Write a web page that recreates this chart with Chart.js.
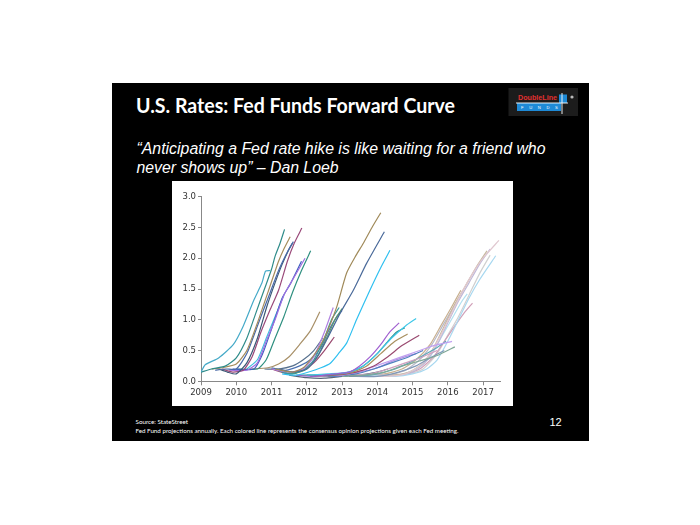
<!DOCTYPE html>
<html>
<head>
<meta charset="utf-8">
<script src="https://cdn.jsdelivr.net/npm/chart.js@4"></script>
<style>
  body { margin: 0; background: #fff; width: 700px; height: 525px; overflow: hidden; }
  #slide { position: absolute; left: 112px; top: 83px; width: 477px; height: 358px; background: #000; }
  #deco { position: absolute; left: 0; top: 0; }
  #chartBox { position: absolute; left: 172px; top: 181px; width: 341px; height: 225px; background: #fff; }
</style>
</head>
<body>
<div id="slide"></div>
<svg id="deco" width="700" height="525">
  <text x="136" y="113" fill="#fff" font-family="Lato" font-weight="bold" font-size="21" textLength="319" lengthAdjust="spacingAndGlyphs">U.S. Rates: Fed Funds Forward Curve</text>
  <text x="136.5" y="154" fill="#fff" font-family="Liberation Sans" font-style="italic" font-size="16.3" textLength="409" lengthAdjust="spacingAndGlyphs">“Anticipating a Fed rate hike is like waiting for a friend who</text>
  <text x="136.5" y="173" fill="#fff" font-family="Liberation Sans" font-style="italic" font-size="16.3" textLength="202" lengthAdjust="spacingAndGlyphs">never shows up” – Dan Loeb</text>
  <text x="135.5" y="424" fill="#fff" font-family="Lato" font-size="6.5" textLength="52.5" lengthAdjust="spacingAndGlyphs">Source: StateStreet</text>
  <text x="135.5" y="432.5" fill="#fff" font-family="Lato" font-size="6.5" textLength="323" lengthAdjust="spacingAndGlyphs">Fed Fund projections annually. Each colored line represents the consensus opinion projections given each Fed meeting.</text>
  <text x="549.5" y="426" fill="#ffffff" font-family="Liberation Sans" font-size="11">12</text>
  <!-- logo -->
  <rect x="508.5" y="88" width="69.5" height="28" fill="#1c1c1c"/>
  <text x="518" y="99.5" fill="#e03030" font-family="Liberation Sans" font-weight="bold" font-size="7" textLength="39" lengthAdjust="spacingAndGlyphs">DoubleLine</text>
  <rect x="517" y="103" width="44" height="8" fill="#1e8ad6"/>
  <rect x="559" y="94.5" width="8" height="8.5" fill="#1e8ad6"/>
  <text x="521" y="109.3" fill="#fff" font-family="Liberation Sans" font-size="4.2" letter-spacing="5.6">FUNDS</text>
  <line x1="516" y1="103" x2="568" y2="103" stroke="#fff" stroke-width="0.9"/>
  <line x1="562" y1="93" x2="562" y2="114" stroke="#fff" stroke-width="0.9"/>
  <circle cx="572" cy="97" r="1.6" fill="#bbb"/>
</svg>
<div id="chartBox"><canvas id="fedChart" width="341" height="225"></canvas></div>
<script>
// axis ticks
const yearTicks = [2009, 2010, 2011, 2012, 2013, 2014, 2015, 2016, 2017];
const rateTicks = [0, 0.5, 1.0, 1.5, 2.0, 2.5, 3.0];

// forward curves: [year, rate], one array per Fed meeting
// 2009 - 2010 meetings
const meet01 = [[2009.0,0.15],[2009.12,0.27],[2009.5,0.38],[2009.92,0.6],[2010.2,0.9],[2010.5,1.32],[2010.73,1.6],[2010.83,1.79],[2010.96,1.8]];
const meet02 = [[2009.0,0.15],[2009.3,0.2],[2009.7,0.25],[2010.0,0.38],[2010.3,0.7],[2010.55,1.1],[2010.8,1.5],[2011.0,1.82],[2011.1,2.03],[2011.24,2.24],[2011.37,2.47]];
const meet03 = [[2009.3,0.2],[2009.6,0.22],[2010.0,0.28],[2010.3,0.5],[2010.6,0.95],[2010.9,1.45],[2011.2,1.95],[2011.35,2.15],[2011.53,2.35]];
const meet04 = [[2009.4,0.18],[2009.7,0.2],[2010.0,0.2],[2010.3,0.45],[2010.6,0.9],[2010.9,1.35],[2011.2,1.8],[2011.45,2.1],[2011.62,2.27]];
const meet05 = [[2009.5,0.2],[2009.75,0.15],[2010.0,0.12],[2010.3,0.3],[2010.6,0.7],[2010.87,1.22],[2011.1,1.6],[2011.3,1.9],[2011.5,2.15],[2011.6,2.25]];
const meet06 = [[2009.6,0.2],[2009.9,0.15],[2010.2,0.18],[2010.45,0.4],[2010.7,0.8],[2010.95,1.15],[2011.2,1.48],[2011.45,1.95],[2011.65,2.25],[2011.86,2.49]];
const meet07 = [[2009.8,0.18],[2010.3,0.18],[2010.6,0.3],[2010.85,0.65],[2011.1,1.0],[2011.35,1.4],[2011.6,1.65],[2011.95,2.0]];
const meet08 = [[2009.9,0.2],[2010.5,0.2],[2010.75,0.45],[2011.0,0.85],[2011.3,1.35],[2011.55,1.6],[2011.85,1.95]];
const meet09 = [[2010.0,0.2],[2010.6,0.2],[2010.85,0.35],[2011.1,0.7],[2011.35,1.05],[2011.6,1.45],[2011.85,1.8],[2012.11,2.12]];
const meet10 = [[2010.3,0.2],[2010.6,0.35],[2010.85,0.7],[2011.1,1.05],[2011.35,1.4]];
const meet11 = [[2010.4,0.2],[2010.9,0.22],[2011.2,0.28],[2011.5,0.4],[2011.8,0.6],[2012.1,0.82],[2012.37,1.13]];
// 2011 meetings
const meet12 = [[2011.1,0.2],[2011.6,0.15],[2011.9,0.22],[2012.1,0.35],[2012.35,0.55],[2012.56,0.78],[2012.85,1.21],[2013.13,1.76],[2013.4,2.05],[2013.6,2.24],[2013.85,2.5],[2014.1,2.74]];
const meet13 = [[2011.2,0.2],[2011.6,0.15],[2012.0,0.2],[2012.3,0.4],[2012.56,0.67],[2012.94,1.1],[2013.32,1.48],[2013.7,1.92],[2014.2,2.43]];
const meet14 = [[2011.3,0.12],[2011.7,0.1],[2012.1,0.16],[2012.4,0.22],[2012.66,0.29],[2012.9,0.45],[2013.13,0.62],[2013.41,1.0],[2013.79,1.48],[2014.1,1.85],[2014.36,2.13]];
const meet15 = [[2011.0,0.2],[2011.5,0.15],[2011.9,0.2],[2012.2,0.4],[2012.5,0.8],[2012.75,1.2]];
const meet16 = [[2011.1,0.2],[2011.5,0.12],[2011.9,0.18],[2012.2,0.35],[2012.5,0.7],[2012.7,1.0],[2012.92,1.2]];
const meet17 = [[2011.2,0.18],[2011.6,0.12],[2012.0,0.2],[2012.3,0.4],[2012.6,0.75],[2012.8,1.0],[2013.0,1.18]];
const meet18 = [[2011.0,0.22],[2011.4,0.18],[2011.8,0.25],[2012.1,0.35],[2012.4,0.55],[2012.6,0.8],[2012.85,1.05],[2013.0,1.15]];
const meet19 = [[2011.0,0.2],[2011.5,0.12],[2011.9,0.18],[2012.2,0.3],[2012.5,0.5],[2012.78,0.72]];
const meet20 = [[2010.8,0.2],[2011.2,0.2],[2011.6,0.25],[2011.9,0.35],[2012.2,0.5],[2012.45,0.7]];
// 2012 - 2013 meetings
const meet21 = [[2011.7,0.1],[2012.2,0.08],[2012.8,0.12],[2013.2,0.15],[2013.5,0.25],[2013.8,0.4],[2014.1,0.6],[2014.35,0.8],[2014.62,0.95]];
const meet22 = [[2012.0,0.1],[2012.6,0.12],[2013.2,0.15],[2013.6,0.25],[2014.0,0.45],[2014.4,0.7],[2014.8,0.9],[2015.1,1.02]];
const meet23 = [[2011.8,0.1],[2012.5,0.1],[2013.2,0.15],[2013.6,0.25],[2014.0,0.45],[2014.3,0.65],[2014.55,0.8],[2014.78,0.87]];
const meet24 = [[2012.0,0.1],[2012.6,0.1],[2013.3,0.15],[2013.7,0.25],[2014.1,0.45],[2014.5,0.65],[2014.86,0.77]];
const meet25 = [[2012.1,0.08],[2012.8,0.1],[2013.4,0.15],[2013.9,0.25],[2014.3,0.4],[2014.7,0.58],[2015.19,0.75]];
const meet26 = [[2012.5,0.1],[2013.0,0.1],[2013.6,0.18],[2014.1,0.28],[2014.6,0.38],[2015.1,0.48],[2015.6,0.58],[2016.12,0.65]];
const meet27 = [[2013.0,0.08],[2013.6,0.1],[2014.2,0.15],[2014.7,0.25],[2015.2,0.33],[2015.7,0.42],[2016.2,0.56]];
const meet28 = [[2012.2,0.1],[2012.8,0.08],[2013.4,0.12],[2013.9,0.2],[2014.4,0.3],[2014.9,0.4],[2015.3,0.5]];
const meet29 = [[2012.6,0.08],[2013.2,0.1],[2013.8,0.12],[2014.3,0.2],[2014.8,0.3],[2015.3,0.4],[2015.7,0.5]];
const meet30 = [[2012.3,0.1],[2013.0,0.1],[2013.5,0.15],[2014.0,0.22],[2014.4,0.32],[2014.8,0.4],[2015.1,0.45]];
const meet31 = [[2011.5,0.1],[2012.0,0.06],[2012.5,0.05],[2013.0,0.08],[2013.5,0.1],[2014.0,0.15],[2014.3,0.2]];
const meet32 = [[2013.0,0.1],[2013.8,0.1],[2014.4,0.18],[2014.9,0.3],[2015.3,0.42],[2015.7,0.55],[2015.95,0.65]];
const meet33 = [[2013.2,0.08],[2014.0,0.08],[2014.6,0.15],[2015.1,0.25],[2015.5,0.38],[2015.9,0.5]];
// 2013 - 2014 meetings
const meet34 = [[2013.5,0.1],[2014.2,0.08],[2014.8,0.12],[2015.2,0.25],[2015.5,0.45],[2015.8,0.75],[2016.1,1.1],[2016.4,1.45],[2016.7,1.75],[2017.0,2.0],[2017.45,2.29]];
const meet35 = [[2013.8,0.1],[2014.5,0.08],[2015.0,0.12],[2015.4,0.2],[2015.7,0.35],[2016.0,0.65],[2016.3,1.0],[2016.6,1.35],[2016.9,1.65],[2017.36,2.04]];
const meet36 = [[2013.6,0.1],[2014.4,0.1],[2014.9,0.15],[2015.3,0.3],[2015.6,0.55],[2015.9,0.9],[2016.2,1.25],[2016.5,1.55],[2016.8,1.85],[2017.11,2.12]];
const meet37 = [[2013.7,0.12],[2014.5,0.1],[2015.0,0.15],[2015.35,0.3],[2015.7,0.6],[2016.0,0.95],[2016.3,1.3],[2016.6,1.6],[2016.9,1.9],[2017.2,2.15]];
const meet38 = [[2013.4,0.1],[2014.2,0.12],[2014.7,0.2],[2015.1,0.35],[2015.5,0.6],[2015.8,0.9],[2016.1,1.2],[2016.37,1.48]];
const meet39 = [[2013.5,0.1],[2014.3,0.1],[2014.8,0.18],[2015.2,0.35],[2015.55,0.6],[2015.85,0.9],[2016.15,1.2],[2016.43,1.48]];
const meet40 = [[2014.0,0.08],[2014.7,0.1],[2015.2,0.2],[2015.6,0.4],[2015.9,0.65],[2016.2,0.9],[2016.45,1.1],[2016.7,1.27]];
const meet41 = [[2013.9,0.1],[2014.6,0.1],[2015.1,0.2],[2015.5,0.4],[2015.8,0.7],[2016.1,1.0],[2016.4,1.3],[2016.55,1.42]];
const meet42 = [[2014.3,0.1],[2014.9,0.12],[2015.3,0.2],[2015.7,0.45],[2016.0,0.75],[2016.3,1.05],[2016.6,1.4],[2016.9,1.75],[2017.2,2.05]];

const curves = [meet01, meet02, meet03, meet04, meet05, meet06, meet07, meet08, meet09, meet10, meet11,
  meet12, meet13, meet14, meet15, meet16, meet17, meet18, meet19, meet20,
  meet21, meet22, meet23, meet24, meet25, meet26, meet27, meet28, meet29, meet30, meet31, meet32, meet33,
  meet34, meet35, meet36, meet37, meet38, meet39, meet40, meet41, meet42];

const lineColors = ['#46aac8', '#2f8c8a', '#a48c5c', '#4a6aa8', '#3d5876', '#9a4a7a', '#a070e0', '#4060c0', '#2f9080', '#40c0e0', '#a89068',
  '#a08a5a', '#4a6a9a', '#30c0f0', '#b080e0', '#3a9a9a', '#5a9a6a', '#4a70b0', '#9a4a70', '#56708e',
  '#a060d0', '#40c8e8', '#2a9090', '#a89060', '#9a4a70', '#c0a0f0', '#80a898', '#5080c0', '#d0a0c0', '#b090e0', '#55667a', '#60a8b8', '#8098b8',
  '#e0c8d0', '#a8d8f0', '#c8b8a0', '#c0b8d8', '#c8b090', '#b8b8c8', '#d0a0b8', '#b0e0f0', '#d0d0d0'];

const datasets = curves.map(function (c, i) {
  return {
    data: c.map(function (p) { return { x: p[0], y: p[1] }; }),
    borderColor: lineColors[i],
    borderWidth: 1.2,
    pointRadius: 0,
    tension: 0.2,
    fill: false
  };
});

const tickFont = { family: 'DejaVu Sans', size: 8.5 };

new Chart(document.getElementById('fedChart').getContext('2d'), {
  type: 'line',
  data: { datasets: datasets },
  options: {
    responsive: false,
    animation: false,
    devicePixelRatio: 1,
    layout: { padding: { top: 15.7, right: 12.3, left: 0, bottom: 0 } },
    plugins: { legend: { display: false }, tooltip: { enabled: false } },
    scales: {
      x: {
        type: 'linear',
        min: 2009,
        max: 2017.5,
        afterBuildTicks: function (s) { s.ticks = yearTicks.map(function (v) { return { value: v }; }); },
        afterFit: function (s) { s.height = 24.7; },
        ticks: { font: tickFont, color: '#333', padding: 2, maxRotation: 0, callback: function (v) { return String(v); } },
        grid: { drawOnChartArea: false, drawTicks: true, tickLength: 4, color: '#888' },
        border: { color: '#888', width: 1 }
      },
      y: {
        min: 0,
        max: 3,
        afterBuildTicks: function (s) { s.ticks = rateTicks.map(function (v) { return { value: v }; }); },
        afterFit: function (s) { s.width = 29; },
        ticks: { font: tickFont, color: '#333', padding: 2, callback: function (v) { return v.toFixed(1); } },
        grid: { drawOnChartArea: false, drawTicks: true, tickLength: 3, color: '#888' },
        border: { color: '#888', width: 1 }
      }
    }
  }
});
</script>
</body>
</html>
